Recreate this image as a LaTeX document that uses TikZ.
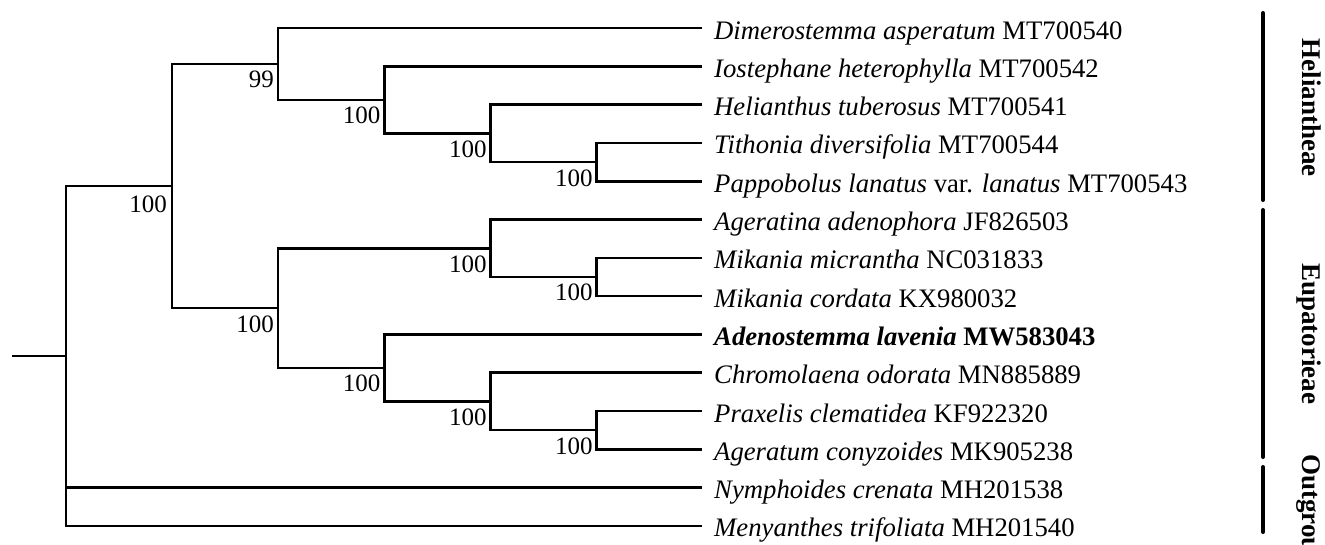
\documentclass[tikz,border=0pt]{standalone}
\usepackage{fontspec}
\setmainfont{Liberation Serif}
\begin{document}
\begin{tikzpicture}[x=1pt,y=-1pt,
  branch/.style={line width=2.6pt},
  cladebar/.style={line width=4pt,line cap=round},
  tiplab/.style={font=\fontsize{26.7}{30}\selectfont,inner sep=0pt,anchor=base west},
  boot/.style={font=\fontsize{25}{28}\selectfont,inner sep=0pt,anchor=base east},
  cladelab/.style={font=\fontsize{27}{30}\selectfont\bfseries,inner sep=0pt,rotate=-90}]
\useasboundingbox (0,0) rectangle (1325,544);
\clip (0,0) rectangle (1325,544);
% tips
\coordinate (t1) at (702,28);
\coordinate (t2) at (702,66.3);
\coordinate (t3) at (702,104.6);
\coordinate (t4) at (702,142.9);
\coordinate (t5) at (702,181.2);
\coordinate (t6) at (702,219.5);
\coordinate (t7) at (702,257.8);
\coordinate (t8) at (702,296.1);
\coordinate (t9) at (702,334.4);
\coordinate (t10) at (702,372.7);
\coordinate (t11) at (702,411.0);
\coordinate (t12) at (702,449.3);
\coordinate (t13) at (702,487.6);
\coordinate (t14) at (702,525.9);
% internal nodes
\coordinate (s) at (12,355.9);
\coordinate (r) at (66,355.9);
\coordinate (A) at (172,186);
\coordinate (H) at (278,63.9);
\coordinate (H2) at (384.5,99.8);
\coordinate (H3) at (490.7,133.3);
\coordinate (H4) at (596.7,162.05);
\coordinate (E) at (278,308.05);
\coordinate (E1) at (490.7,248.2);
\coordinate (E2) at (596.7,276.95);
\coordinate (E3) at (384.5,367.9);
\coordinate (E4) at (490.7,401.4);
\coordinate (E5) at (596.7,430.15);
% branches
\draw[branch] (s) -- (r);
\draw[branch] (r) |- (A);
\draw[branch] (r) |- (t13);
\draw[branch] (r) |- (t14);
\draw[branch] (A) |- (H);
\draw[branch] (A) |- (E);
\draw[branch] (H) |- (t1);
\draw[branch] (H) |- (H2);
\draw[branch] (H2) |- (t2);
\draw[branch] (H2) |- (H3);
\draw[branch] (H3) |- (t3);
\draw[branch] (H3) |- (H4);
\draw[branch] (H4) |- (t4);
\draw[branch] (H4) |- (t5);
\draw[branch] (E) |- (E1);
\draw[branch] (E) |- (E3);
\draw[branch] (E1) |- (t6);
\draw[branch] (E1) |- (E2);
\draw[branch] (E2) |- (t7);
\draw[branch] (E2) |- (t8);
\draw[branch] (E3) |- (t9);
\draw[branch] (E3) |- (E4);
\draw[branch] (E4) |- (t10);
\draw[branch] (E4) |- (E5);
\draw[branch] (E5) |- (t11);
\draw[branch] (E5) |- (t12);
% bootstrap values
\node[boot] (bA) at ([xshift=-5pt,yshift=-26pt]A) {100};
\node[boot] (bH) at ([xshift=-4pt,yshift=-24pt]H) {99};
\node[boot] (bH2) at ([xshift=-4pt,yshift=-24pt]H2) {100};
\node[boot] (bH3) at ([xshift=-4pt,yshift=-24pt]H3) {100};
\node[boot] (bH4) at ([xshift=-4pt,yshift=-24pt]H4) {100};
\node[boot] (bE) at ([xshift=-4pt,yshift=-24pt]E) {100};
\node[boot] (bE1) at ([xshift=-4pt,yshift=-24pt]E1) {100};
\node[boot] (bE2) at ([xshift=-4pt,yshift=-24pt]E2) {100};
\node[boot] (bE3) at ([xshift=-4pt,yshift=-24pt]E3) {100};
\node[boot] (bE4) at ([xshift=-4pt,yshift=-24pt]E4) {100};
\node[boot] (bE5) at ([xshift=-4pt,yshift=-24pt]E5) {100};
% tip labels
\node[tiplab] (l1) at ([xshift=12pt,yshift=-11pt]t1) {\textit{Dimerostemma asperatum} MT700540};
\node[tiplab] (l2) at ([xshift=12pt,yshift=-11pt]t2) {\textit{Iostephane heterophylla} MT700542};
\node[tiplab] (l3) at ([xshift=12pt,yshift=-11pt]t3) {\textit{Helianthus tuberosus} MT700541};
\node[tiplab] (l4) at ([xshift=12pt,yshift=-11pt]t4) {\textit{Tithonia diversifolia} MT700544};
\node[tiplab] (l5) at ([xshift=12pt,yshift=-11pt]t5) {\textit{Pappobolus lanatus} var. \textit{lanatus} MT700543};
\node[tiplab] (l6) at ([xshift=12pt,yshift=-11pt]t6) {\textit{Ageratina adenophora} JF826503};
\node[tiplab] (l7) at ([xshift=12pt,yshift=-11pt]t7) {\textit{Mikania micrantha} NC031833};
\node[tiplab] (l8) at ([xshift=12pt,yshift=-11pt]t8) {\textit{Mikania cordata} KX980032};
\node[tiplab] (l9) at ([xshift=12pt,yshift=-11pt]t9) {\textbf{\textit{Adenostemma lavenia} MW583043}};
\node[tiplab] (l10) at ([xshift=12pt,yshift=-11pt]t10) {\textit{Chromolaena odorata} MN885889};
\node[tiplab] (l11) at ([xshift=12pt,yshift=-11pt]t11) {\textit{Praxelis clematidea} KF922320};
\node[tiplab] (l12) at ([xshift=12pt,yshift=-11pt]t12) {\textit{Ageratum conyzoides} MK905238};
\node[tiplab] (l13) at ([xshift=12pt,yshift=-11pt]t13) {\textit{Nymphoides crenata} MH201538};
\node[tiplab] (l14) at ([xshift=12pt,yshift=-11pt]t14) {\textit{Menyanthes trifoliata} MH201540};
% clade bars
\coordinate (c1a) at (1263,13);
\coordinate (c1b) at (1263,200);
\coordinate (c2a) at (1263,210);
\coordinate (c2b) at (1263,457);
\coordinate (c3a) at (1263,467);
\coordinate (c3b) at (1263,532);
\draw[cladebar] (c1a) -- (c1b);
\draw[cladebar] (c2a) -- (c2b);
\draw[cladebar] (c3a) -- (c3b);
\node[cladelab,anchor=base] (g1) at (1302,107.5) {Heliantheae};
\node[cladelab,anchor=base] (g2) at (1302,333.5) {Eupatorieae};
\node[cladelab,anchor=base west] (g3) at (1302,454) {Outgroup};
\end{tikzpicture}
\end{document}
